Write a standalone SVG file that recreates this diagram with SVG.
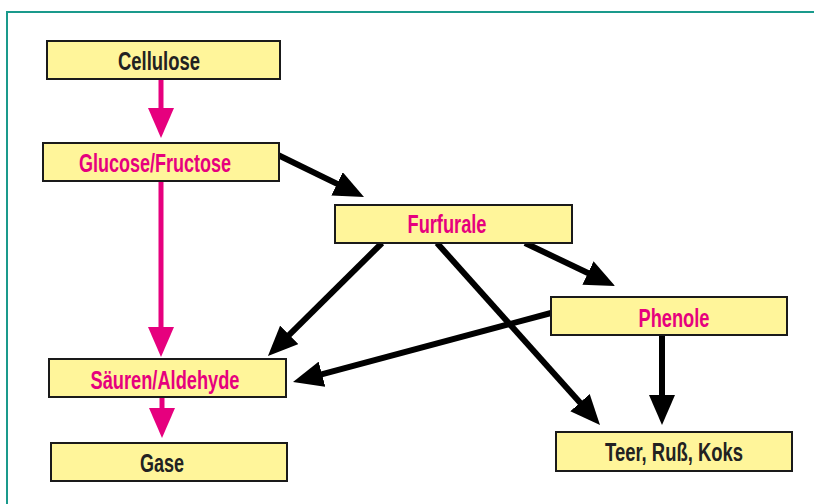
<svg xmlns="http://www.w3.org/2000/svg" width="814" height="504" viewBox="0 0 814 504">
<defs>
<style>
.box{fill:#fff59a;stroke:#1a1a1a;stroke-width:2}
.t{font-family:"Liberation Sans",Arial,sans-serif;font-weight:bold;font-size:26px;text-anchor:middle}
.pk{fill:#e6007e}
.dk{fill:#222222}
.lp{stroke:#e6007e;stroke-width:5;fill:none}
.lb{stroke:#000;stroke-width:6;fill:none}
</style>
<marker id="ap" viewBox="0 0 30 26" markerWidth="30" markerHeight="26" refX="15" refY="13" orient="auto" markerUnits="userSpaceOnUse">
<path d="M0,0 L30,13 L0,26 z" fill="#e6007e"/>
</marker>
<marker id="ab" viewBox="0 0 30 26" markerWidth="30" markerHeight="26" refX="15" refY="13" orient="auto" markerUnits="userSpaceOnUse">
<path d="M0,0 L30,13 L0,26 z" fill="#000"/>
</marker>
</defs>
<rect width="814" height="504" fill="#fff"/>
<path d="M7,504 V12 H814" fill="none" stroke="#1a9a8c" stroke-width="2"/>
<g id="connectors">
<line class="lp" x1="161" y1="79" x2="161" y2="123" marker-end="url(#ap)"/>
<line class="lp" x1="161" y1="181" x2="161" y2="342" marker-end="url(#ap)"/>
<line class="lp" x1="162" y1="397" x2="162" y2="423" marker-end="url(#ap)"/>
<line class="lb" x1="278" y1="155" x2="350.5" y2="190.4" marker-end="url(#ab)"/>
<line class="lb" x1="382" y1="243" x2="278.6" y2="345.4" marker-end="url(#ab)"/>
<line class="lb" x1="525" y1="243" x2="601.5" y2="279.5" marker-end="url(#ab)"/>
<line class="lb" x1="437" y1="243" x2="590" y2="413.8" marker-end="url(#ab)"/>
<line class="lb" x1="551" y1="313" x2="307.5" y2="378.1" marker-end="url(#ab)"/>
<line class="lb" x1="662" y1="335" x2="662" y2="410" marker-end="url(#ab)"/>
</g>
<g id="cellulose"><rect class="box" x="47" y="41" width="233" height="38"/><text class="t dk" x="159" y="69.5" textLength="82" lengthAdjust="spacingAndGlyphs">Cellulose</text></g>
<g id="glucose"><rect class="box" x="43" y="143" width="236" height="38"/><text class="t pk" x="155" y="172" textLength="152" lengthAdjust="spacingAndGlyphs">Glucose/Fructose</text></g>
<g id="furfurale"><rect class="box" x="335" y="205" width="237" height="38"/><text class="t pk" x="447" y="233" textLength="79" lengthAdjust="spacingAndGlyphs">Furfurale</text></g>
<g id="phenole"><rect class="box" x="551" y="297" width="236" height="38"/><text class="t pk" x="674" y="327" textLength="71" lengthAdjust="spacingAndGlyphs">Phenole</text></g>
<g id="saeuren"><rect class="box" x="49" y="359" width="237" height="38"/><text class="t pk" x="165" y="388.5" textLength="149" lengthAdjust="spacingAndGlyphs">Säuren/Aldehyde</text></g>
<g id="gase"><rect class="box" x="51" y="443" width="236" height="38"/><text class="t dk" x="162" y="471.5" textLength="44" lengthAdjust="spacingAndGlyphs">Gase</text></g>
<g id="teer"><rect class="box" x="556" y="432" width="236" height="39"/><text class="t dk" x="674" y="460.5" textLength="138" lengthAdjust="spacingAndGlyphs">Teer, Ruß, Koks</text></g>
</svg>
